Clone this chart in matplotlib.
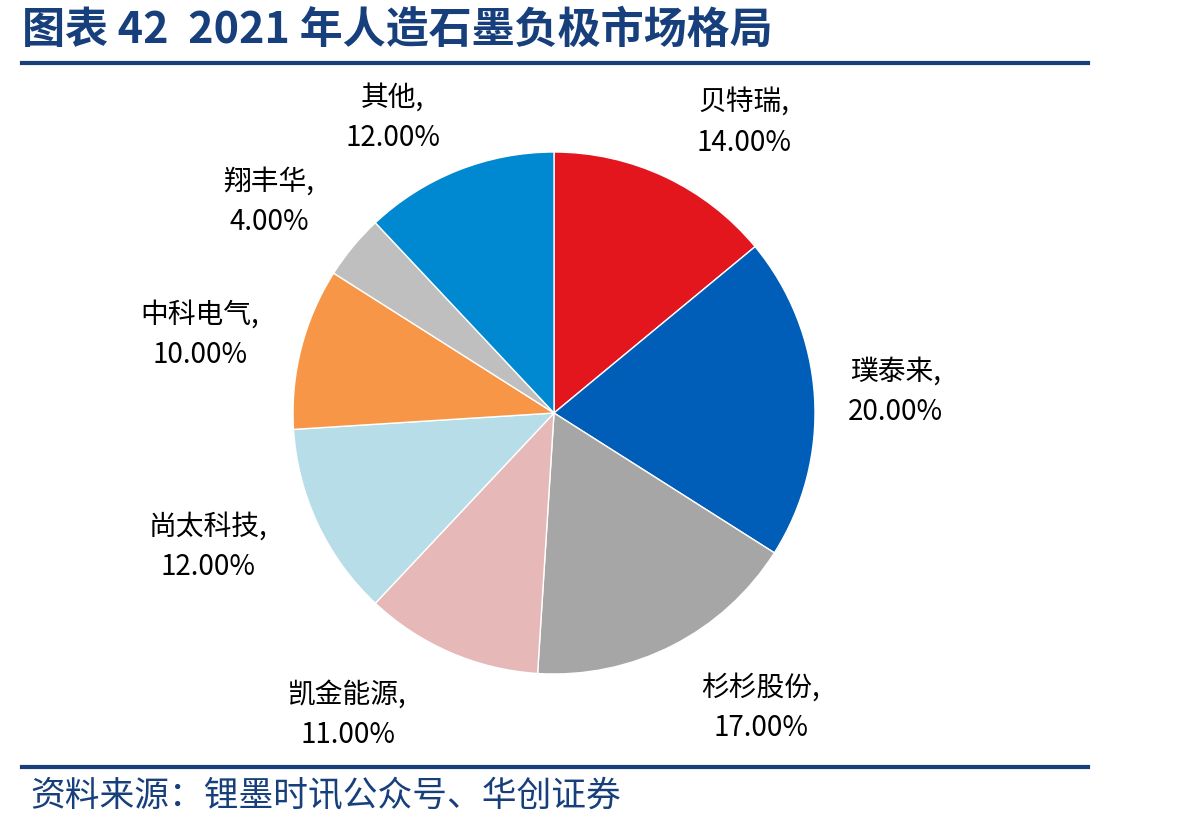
import matplotlib
matplotlib.use("Agg")
import matplotlib.pyplot as plt
import numpy as np

plt.rcParams['font.family'] = ['Noto Sans CJK SC', 'DejaVu Sans']

# datos del grafico
names = ["贝特瑞", "璞泰来", "杉杉股份", "凯金能源", "尚太科技", "中科电气", "翔丰华", "其他"]
shares = [14, 20, 17, 11, 12, 10, 4, 12]
colors = ["#E3161E", "#005EB8", "#A6A6A6", "#E6B9B8", "#B7DDE8", "#F79646", "#BFBFBF", "#0089D1"]
label_dist = [1.33, 1.31, 1.38, 1.40, 1.42, 1.39, 1.36, 1.29]
label_shift = [-8, 0, 8, -11, -4, 2, 3, 7]  # grados, ajuste tipo "best fit"

title = "图表 42  2021 年人造石墨负极市场格局"
source = "资料来源：锂墨时讯公众号、华创证券"
navy = "#173F7C"

fig = plt.figure(figsize=(11.98, 8.27), dpi=100)
ax = fig.add_axes([162.5 / 1198, 22.5 / 827, 783 / 1198, 783 / 827])
wedges, _ = ax.pie(shares, colors=colors, startangle=90, counterclock=False,
                   wedgeprops=dict(edgecolor="white", linewidth=1))
ax.set_xlim(-1.5, 1.5)
ax.set_ylim(-1.5, 1.5)
ax.set_aspect("equal")

for w, name, v, d, s in zip(wedges, names, shares, label_dist, label_shift):
    ang = np.deg2rad((w.theta1 + w.theta2) / 2 + s)
    ax.text(d * np.cos(ang), d * np.sin(ang), f"{name},\n{v:.2f}%",
            ha="center", va="center", fontsize=20, linespacing=1.45, color="black")

fig.text(22 / 1198, 1 - 30 / 827, title, fontsize=31, fontweight="bold", color=navy,
         ha="left", va="center")
fig.add_artist(plt.Line2D([22 / 1198, 1088 / 1198], [1 - 63 / 827] * 2, color=navy, lw=3))
fig.add_artist(plt.Line2D([22 / 1198, 1088 / 1198], [1 - 767 / 827] * 2, color=navy, lw=3))
fig.text(30 / 1198, 1 - 797 / 827, source, fontsize=25, color=navy, ha="left", va="center")

plt.savefig("out.png", dpi=100)
plt.close()
